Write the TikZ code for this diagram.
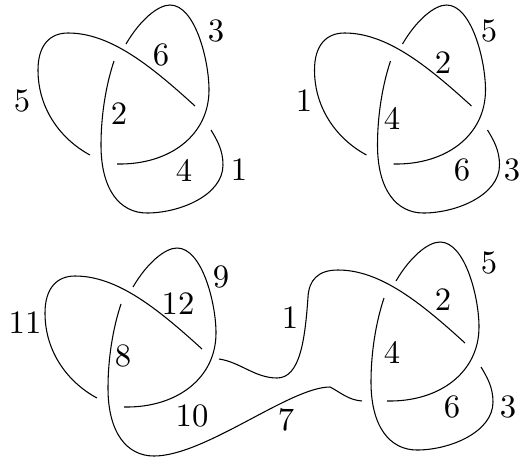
\documentclass[tikz,border=0pt]{standalone}
\usepackage{fontspec}
\setmainfont{lmroman10-regular.otf}
\tikzset{
  strand/.style={draw=black,line width=0.8pt,line cap=butt},
  lbl/.style={inner sep=0pt,font=\fontsize{24.5}{27}\selectfont},
  arcA/.pic={\draw[strand] (126,44) .. controls (140,20) and (158,5) .. (170,5)
     .. controls (195,5) and (209,60) .. (209,90)
     .. controls (209,135) and (170,165) .. (117,164);},
  arcB/.pic={\draw[strand] (195,106) .. controls (150,65) and (110,33) .. (68,33)
     .. controls (50,33) and (38,45) .. (38,70)
     .. controls (38,110) and (62,140) .. (90,155);},
  arcC/.pic={\draw[strand] (114,61) .. controls (106,85) and (101,115) .. (101,145)
     .. controls (101,190) and (120,213) .. (147,213)
     .. controls (180,213) and (223,195) .. (223,165)
     .. controls (223,150) and (217,140) .. (211,130);},
}
\begin{document}
\begin{tikzpicture}[x=0.75pt,y=-0.75pt]
\useasboundingbox (0,0) rectangle (521,461);
% top left
\pic at (0,0) {arcA}; \pic at (0,0) {arcB}; \pic at (0,0) {arcC};
\node[lbl] (a5) at (22,101) {5};
\node[lbl] (a6) at (161,55) {6};
\node[lbl] (a3) at (216,31) {3};
\node[lbl] (a2) at (119,114) {2};
\node[lbl] (a4) at (184,170) {4};
\node[lbl] (a1) at (239,170) {1};
% top right
\pic at (276.5,0) {arcA}; \pic at (276.5,0) {arcB}; \pic at (276.5,0) {arcC};
\node[lbl] (b1) at (304,101) {1};
\node[lbl] (b5) at (489,31) {5};
\node[lbl] (b2) at (443,63) {2};
\node[lbl] (b4) at (392,118) {4};
\node[lbl] (b6) at (462,170) {6};
\node[lbl] (b3) at (512,170) {3};
% bottom left
\pic at (7,243) {arcA}; \pic at (7,243) {arcB};
% bottom right
\pic at (270,237) {arcA}; \pic at (270,237) {arcC};
% connecting strands
\draw[strand] (121,304) .. controls (113,328) and (108,358) .. (108,388)
  .. controls (108,433) and (127,456) .. (154,456)
  .. controls (205,456) and (290,387) .. (330,387)
  .. controls (340,392) and (348,400) .. (362,401);
\draw[strand] (219,359) .. controls (240,362) and (255,378) .. (277,378)
  .. controls (300,378) and (305,340) .. (308,297)
  .. controls (309,280) and (318,270) .. (338,270)
  .. controls (380,270) and (420,302) .. (465,343);
\node[lbl] (c11) at (25,323) {11};
\node[lbl] (c9) at (221,277) {9};
\node[lbl] (c12) at (178,304) {12};
\node[lbl] (c8) at (123,356) {8};
\node[lbl] (c10) at (192,416) {10};
\node[lbl] (c7) at (286,420) {7};
\node[lbl] (c1) at (290,318) {1};
\node[lbl] (c4) at (392,352) {4};
\node[lbl] (c2) at (443,300) {2};
\node[lbl] (c5) at (489,263) {5};
\node[lbl] (c6) at (452,407) {6};
\node[lbl] (c3) at (508,407) {3};
\end{tikzpicture}
\end{document}
